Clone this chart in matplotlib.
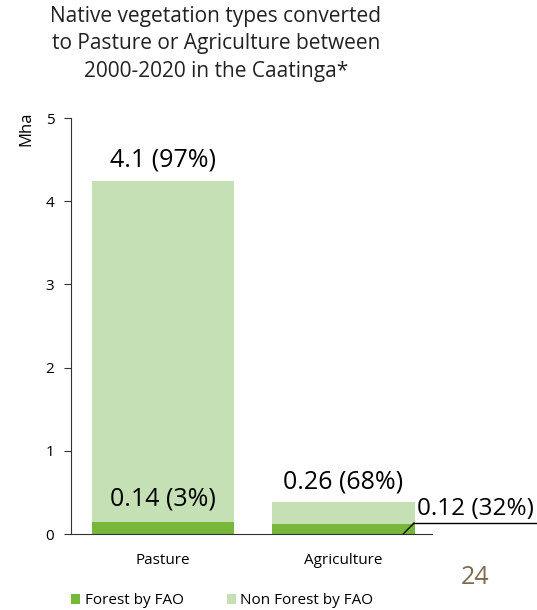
import matplotlib.pyplot as plt
import numpy as np

# land converted 2000-2020, million hectares
categories = ["Pasture", "Agriculture"]
forest = [0.14, 0.12]
non_forest = [4.1, 0.26]
forest_labels = ["0.14 (3%)", "0.12 (32%)"]
non_forest_labels = ["4.1 (97%)", "0.26 (68%)"]

FOREST_COLOR = "#77b83c"
NON_FOREST_COLOR = "#c6e0b5"

plt.rcParams['font.family'] = ['Open Sans', 'DejaVu Sans']

fig = plt.figure(figsize=(5.37, 6.1), dpi=100)
ax = fig.add_axes([71 / 537, 1 - 534 / 610, (432 - 71) / 537, (534 - 118) / 610])

x = np.arange(len(categories))
b1 = ax.bar(x, forest, width=0.79, color=FOREST_COLOR, label="Forest by FAO")
b2 = ax.bar(x, non_forest, width=0.79, bottom=forest, color=NON_FOREST_COLOR,
            label="Non Forest by FAO")

ax.set_xlim(-0.51, 1.49)
ax.set_ylim(0, 5)
ax.set_yticks([0, 1, 2, 3, 4, 5])
ax.set_xticks(x)
ax.set_xticklabels(categories)
ax.tick_params(axis='y', length=5, labelsize=11, color="#333333", pad=7)
ax.tick_params(axis='x', length=0, labelsize=11, pad=14)
for s in ["top", "right"]:
    ax.spines[s].set_visible(False)
ax.spines["left"].set_color("#333333")
ax.spines["bottom"].set_color("#333333")
ax.set_ylabel("Mha", fontsize=12)
ax.yaxis.set_label_coords(-37 / 361, (534 - 129) / 416)

# value labels
totals = [f + n for f, n in zip(forest, non_forest)]
lbl = dict(ha="center", va="center", fontsize=18)
ax.text(x[0], totals[0] + 0.25, non_forest_labels[0], **lbl)
ax.text(x[0], forest[0] + 0.28, forest_labels[0], **lbl)
ax.text(x[1], totals[1] + 0.24, non_forest_labels[1], **lbl)

# leader line for the small forest slice in Agriculture
ax.annotate(forest_labels[1], xy=(x[1] + 0.33, 0.0), xycoords="data",
            xytext=(417 / 537, 1 - 521 / 610), textcoords="figure fraction",
            ha="left", va="bottom", fontsize=17.5, annotation_clip=False,
            arrowprops=dict(arrowstyle="-", color="black", lw=1,
                            connectionstyle="angle,angleA=0,angleB=45,rad=0",
                            shrinkA=0, shrinkB=0))
fig.add_artist(plt.Line2D([413 / 537, 1.0], [1 - 523 / 610, 1 - 523 / 610],
                          color="black", lw=1))

fig.text(216 / 537, 1 - 44 / 610,
         "Native vegetation types converted\nto Pasture or Agriculture between\n2000-2020 in the Caatinga*",
         ha="center", va="center", fontsize=15, linespacing=1.42, color="#222222")

fig.legend(handles=[b1, b2], loc="center left", bbox_to_anchor=(65 / 537, 1 - 601 / 610),
           ncol=2, frameon=False, fontsize=11, handlelength=0.6, handleheight=0.6,
           handletextpad=0.3, columnspacing=2.8, borderaxespad=0)

fig.text(475 / 537, 1 - 577 / 610, "24", ha="center", va="center", fontsize=18, color="#7d6a4f")

fig.savefig("out.png", dpi=100)
